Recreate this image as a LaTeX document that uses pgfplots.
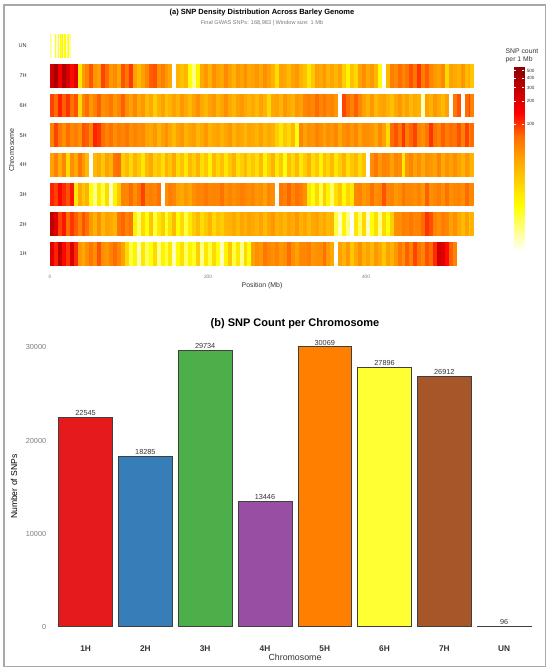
\documentclass[border=0pt]{standalone}
\usepackage{fontspec}
\setmainfont{Liberation Sans}
\usepackage{pgfplots}
\pgfplotsset{compat=1.18}
\usepackage{pgfplotstable}
\definecolor{cA}{HTML}{E41A1C}
\definecolor{cB}{HTML}{377EB8}
\definecolor{cC}{HTML}{4DAF4A}
\definecolor{cD}{HTML}{984EA3}
\definecolor{cE}{HTML}{FF7F00}
\definecolor{cF}{HTML}{FFFF33}
\definecolor{cG}{HTML}{A65628}
\definecolor{cH}{HTML}{F781BF}
\definecolor{barline}{HTML}{3F3F3F}
\definecolor{txtdark}{HTML}{333333}
\definecolor{txtgray}{HTML}{7A7A7A}
\definecolor{framegray}{HTML}{A8A8A8}
\newcommand{\fs}[1]{\fontsize{#1}{#1}\selectfont}

\pgfdeclareplotmark{cellA}{\pgfpathrectangle{\pgfpoint{-2.05pt}{-11.88pt}}{\pgfpoint{4.1pt}{23.76pt}}\pgfusepathqfill}
\pgfdeclareplotmark{cellB}{\pgfpathrectangle{\pgfpoint{-0.43pt}{-11.88pt}}{\pgfpoint{0.86pt}{23.76pt}}\pgfusepathqfill}

% SNP counts per 5 Mb bin (bins start at 0, 5, 10, ...)
\pgfplotstableread[row sep=\\]{c\\%
250\\400\\150\\350\\220\\130\\200\\12\\38\\50\\%
80\\42\\36\\90\\68\\40\\48\\32\\82\\60\\%
95\\36\\25\\36\\48\\75\\82\\45\\55\\40\\%
32\\1\\28\\22\\26\\8\\4\\10\\32\\40\\%
28\\45\\36\\32\\48\\36\\28\\40\\34\\45\\%
32\\36\\40\\32\\45\\36\\28\\14\\36\\32\\%
25\\36\\40\\28\\22\\12\\20\\36\\32\\40\\%
28\\34\\26\\36\\18\\10\\22\\15\\36\\45\\%
32\\40\\26\\8\\2\\25\\55\\48\\68\\50\\%
60\\82\\60\\98\\55\\75\\50\\40\\36\\48\\%
15\\36\\32\\28\\40\\25\\32\\20\\}\tabSeven

\pgfplotstableread[row sep=\\]{c\\%
90\\68\\112\\75\\98\\64\\82\\15\\50\\68\\%
40\\52\\75\\45\\50\\60\\40\\50\\75\\45\\%
36\\50\\32\\40\\25\\32\\18\\28\\36\\22\\%
28\\36\\28\\40\\32\\25\\36\\45\\32\\26\\%
36\\40\\28\\34\\45\\32\\26\\36\\40\\32\\%
28\\32\\25\\36\\28\\15\\32\\36\\26\\40\\%
32\\28\\40\\36\\50\\56\\48\\68\\50\\60\\%
48\\52\\40\\1\\90\\68\\52\\75\\50\\36\\%
28\\40\\25\\32\\36\\28\\22\\32\\40\\28\\%
36\\25\\32\\28\\3\\36\\28\\40\\32\\25\\%
36\\1\\60\\82\\2\\68\\90\\52\\}\tabSix

\pgfplotstableread[row sep=\\]{c\\%
52\\90\\60\\45\\68\\50\\56\\45\\82\\75\\%
52\\112\\98\\68\\52\\64\\45\\56\\50\\60\\%
45\\52\\45\\48\\36\\32\\40\\28\\36\\45\\%
32\\25\\36\\40\\28\\34\\38\\26\\32\\40\\%
28\\32\\36\\28\\34\\40\\28\\36\\32\\26\\%
34\\32\\28\\36\\26\\32\\28\\18\\12\\20\\%
15\\25\\8\\50\\36\\45\\40\\52\\45\\36\\%
45\\40\\50\\32\\45\\50\\40\\50\\36\\45\\%
45\\40\\32\\50\\36\\15\\68\\82\\60\\98\\%
56\\72\\90\\52\\45\\60\\98\\64\\52\\75\\%
56\\68\\60\\82\\52\\90\\45\\68\\}\tabFive

\pgfplotstableread[row sep=\\]{c\\%
36\\52\\30\\50\\15\\45\\32\\60\\40\\25\\%
1\\25\\32\\20\\36\\28\\60\\68\\18\\25\\%
15\\28\\20\\12\\25\\32\\18\\22\\14\\28\\%
20\\32\\15\\22\\12\\25\\18\\28\\14\\20\\%
10\\25\\16\\22\\12\\20\\28\\14\\18\\25\\%
15\\20\\14\\25\\10\\18\\28\\12\\20\\8\\%
22\\15\\25\\12\\18\\28\\14\\20\\10\\22\\%
16\\25\\12\\18\\28\\14\\20\\25\\15\\22\\%
1\\45\\60\\40\\52\\50\\36\\50\\45\\12\\%
40\\50\\36\\45\\32\\45\\40\\36\\50\\32\\%
43\\36\\45\\36\\28\\40\\32\\28\\}\tabFour

\pgfplotstableread[row sep=\\]{c\\%
112\\90\\135\\105\\82\\120\\12\\32\\20\\28\\%
8\\4\\12\\6\\15\\3\\10\\20\\52\\50\\%
68\\45\\60\\90\\50\\56\\50\\64\\1\\45\\%
56\\50\\36\\32\\40\\34\\45\\52\\50\\60\\%
50\\52\\50\\64\\45\\52\\45\\50\\56\\50\\%
45\\50\\40\\45\\36\\50\\45\\2\\60\\52\\%
72\\50\\64\\56\\45\\12\\8\\15\\6\\18\\%
10\\5\\14\\20\\9\\16\\12\\50\\52\\40\\%
45\\64\\45\\50\\82\\50\\52\\40\\45\\60\\%
50\\50\\45\\52\\40\\75\\45\\50\\56\\45\\%
64\\45\\50\\52\\45\\68\\50\\50\\}\tabThree

\pgfplotstableread[row sep=\\]{c\\%
300\\200\\90\\120\\68\\98\\75\\52\\82\\64\\%
40\\28\\45\\25\\36\\32\\26\\60\\72\\52\\%
64\\10\\5\\15\\8\\20\\6\\12\\18\\7\\%
14\\25\\9\\15\\6\\12\\18\\25\\14\\20\\%
28\\15\\22\\18\\26\\28\\32\\25\\34\\28\\%
36\\32\\28\\36\\25\\34\\40\\28\\32\\26\\%
36\\30\\40\\28\\34\\25\\32\\36\\28\\32\\%
25\\28\\6\\3\\10\\4\\2\\12\\5\\15\\%
3\\8\\14\\4\\15\\8\\18\\45\\45\\56\\%
50\\60\\50\\52\\68\\98\\82\\52\\45\\56\\%
50\\36\\45\\32\\25\\36\\20\\28\\}\tabTwo

\pgfplotstableread[row sep=\\]{c\\%
200\\112\\300\\135\\98\\220\\105\\40\\32\\45\\%
60\\45\\82\\45\\40\\52\\68\\50\\36\\15\\%
6\\10\\3\\12\\5\\8\\15\\4\\10\\6\\%
12\\3\\9\\14\\5\\10\\7\\18\\4\\12\\%
6\\15\\8\\3\\10\\20\\6\\12\\4\\15\\%
8\\36\\45\\40\\60\\50\\45\\52\\40\\45\\%
68\\45\\36\\50\\50\\56\\40\\45\\45\\64\\%
40\\32\\2\\36\\28\\40\\20\\32\\45\\28\\%
36\\25\\40\\32\\20\\36\\28\\40\\60\\45\\%
75\\52\\90\\64\\50\\82\\68\\105\\250\\200\\%
130\\75\\52\\}\tabOne

% UN: counts per 1 Mb window
\pgfplotstableread[row sep=\\]{c\\%
4\\3\\1\\1\\1\\1\\8\\6\\3\\3\\%
7\\1\\1\\9\\7\\10\\3\\3\\8\\9\\%
1\\1\\6\\8\\3\\4\\3\\2\\}\tabUN

% bin centre, row position and log10 colour value
\newcommand{\prep}[3]{%
  \pgfplotstablecreatecol[expr={min(\pgfplotstablerow*#3+#3/2,534.5)}]{x}#1%
  \pgfplotstablecreatecol[expr={#2}]{y}#1%
  \pgfplotstablecreatecol[expr={log10(\thisrow{c})}]{m}#1}
\prep{\tabOne}{1}{5}
\prep{\tabTwo}{2}{5}
\prep{\tabThree}{3}{5}
\prep{\tabFour}{4}{5}
\prep{\tabFive}{5}{5}
\prep{\tabSix}{6}{5}
\prep{\tabSeven}{7}{5}
\prep{\tabUN}{8}{1}

\pgfplotsset{
  heatrow/.style={scatter, only marks, mark=cellA,
    scatter/use mapped color={draw=none, fill=mapped color},
    point meta=explicit},
}

\begin{document}
\begin{tikzpicture}
\path[use as bounding box] (0pt,0pt) rectangle (550pt,672pt);
\draw[framegray, line width=1.1pt] (4pt,5.3pt) rectangle (545.6pt,667pt);

% ---------- (a) heatmap ----------
\begin{axis}[
  at={(28.8pt,400.2pt)}, anchor=south west, scale only axis,
  width=466.7pt, height=243.6pt,
  xmin=-26.85, xmax=563.85, ymin=0.4, ymax=8.6,
  axis line style={draw=none}, tick style={draw=none},
  xtick={0,200,400},
  ytick={1,2,3,4,5,6,7,8},
  yticklabels={1H,2H,3H,4H,5H,6H,7H,UN},
  /pgf/number format/assume math mode=true,
  xticklabel style={font=\fs{4.8}, text=txtgray},
  yticklabel style={font=\fs{5.6}, text=txtdark, xshift=1.5pt},
  colormap={snp}{rgb255(0pt)=(255,255,255) rgb255(10pt)=(255,255,0) rgb255(20pt)=(255,165,0) rgb255(25pt)=(255,108,0) rgb255(30pt)=(255,0,0) rgb255(40pt)=(139,0,0)},
  point meta min=0.316, point meta max=2.75,
  colorbar,
  colorbar style={
    at={(parent axis.north east)}, anchor=north west,
    xshift=10.3pt, yshift=-38.5pt,
    width=10pt, height=185pt, scale only axis,
    ytick={2,2.30103,2.47712,2.60206,2.69897},
    yticklabels={100,200,300,400,500},
    yticklabel style={font=\fs{4.6}, text=txtdark, xshift=-1pt},
    axis line style={draw=none},
    ytick style={draw=white, line width=0.4pt},
    tick align=inside, major tick length=2pt,
  },
]
\addplot[heatrow] table[x=x, y=y, meta=m] \tabOne;
\addplot[heatrow] table[x=x, y=y, meta=m] \tabTwo;
\addplot[heatrow] table[x=x, y=y, meta=m] \tabThree;
\addplot[heatrow] table[x=x, y=y, meta=m] \tabFour;
\addplot[heatrow] table[x=x, y=y, meta=m] \tabFive;
\addplot[heatrow] table[x=x, y=y, meta=m] \tabSix;
\addplot[heatrow] table[x=x, y=y, meta=m] \tabSeven;
\addplot[heatrow, mark=cellB] table[x=x, y=y, meta=m] \tabUN;
\end{axis}

\node[font=\fs{7.5}\bfseries] at (262pt,659.3pt) {(a) SNP Density Distribution Across Barley Genome};
\node[font=\fs{5.6}, text=txtgray] at (262pt,649.3pt) {Final GWAS SNPs: 168,983 | Window size: 1 Mb};
\node[font=\fs{6.9}, text=txtdark] at (262pt,386pt) {Position (Mb)};
\node[font=\fs{7.2}, text=txtdark, rotate=90] at (11.6pt,522pt) {Chromosome};
\node[font=\fs{6.8}, text=txtdark, anchor=west, inner sep=0pt] at (505.5pt,621.3pt) {SNP count};
\node[font=\fs{6.8}, text=txtdark, anchor=west, inner sep=0pt] at (505.5pt,612.7pt) {per 1 Mb};

% ---------- (b) bar chart ----------
\begin{axis}[
  at={(49.7pt,31.3pt)}, anchor=south west, scale only axis,
  width=490.3pt, height=307.9pt,
  xmin=0.4, xmax=8.6, ymin=-1503.45, ymax=31572.45,
  ybar, bar width=53.8pt,
  axis line style={draw=none}, tick style={draw=none},
  xtick={1,2,3,4,5,6,7,8},
  xticklabels={1H,2H,3H,4H,5H,6H,7H,UN},
  ytick={0,10000,20000,30000},
  scaled y ticks=false,
  /pgf/number format/assume math mode=true,
  /pgf/number format/1000 sep={},
  yticklabel style={font=\fs{7.3}, text=txtgray, /pgf/number format/fixed},
  xticklabel style={font=\fs{8.3}\bfseries, text=txtdark, yshift=3pt},
  nodes near coords={\pgfmathprintnumber[fixed,precision=0,1000 sep={}]{\pgfplotspointmeta}},
  nodes near coords style={font=\fs{7.3}, text=txtdark, anchor=south, inner sep=1.2pt},
  every axis plot/.append style={draw=barline, line width=0.6pt, bar shift=0pt},
]
\addplot[fill=cA] coordinates {(1,22545)};
\addplot[fill=cB] coordinates {(2,18285)};
\addplot[fill=cC] coordinates {(3,29734)};
\addplot[fill=cD] coordinates {(4,13446)};
\addplot[fill=cE] coordinates {(5,30069)};
\addplot[fill=cF] coordinates {(6,27896)};
\addplot[fill=cG] coordinates {(7,26912)};
\addplot[fill=cH] coordinates {(8,96)};
\end{axis}

\node[font=\fs{11}\bfseries] at (295pt,348pt) {(b) SNP Count per Chromosome};
\node[font=\fs{8.6}, text=black, rotate=90] at (14pt,185.3pt) {Number of SNPs};
\node[font=\fs{8.8}, text=txtdark] at (295pt,14.3pt) {Chromosome};
\end{tikzpicture}
\end{document}
